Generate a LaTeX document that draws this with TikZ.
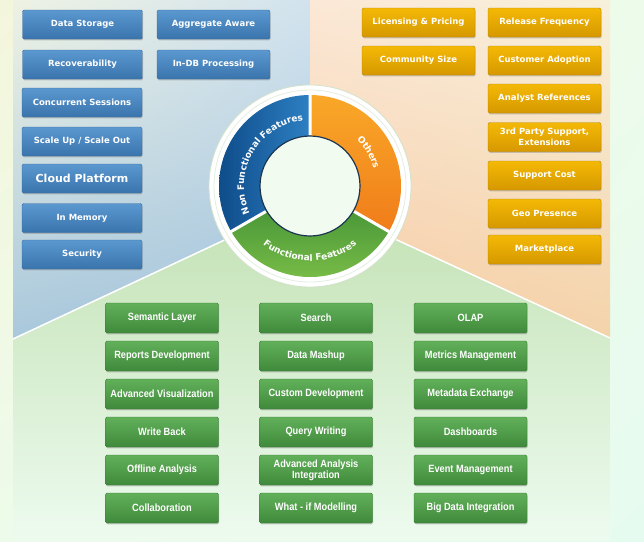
\documentclass[tikz,border=0pt]{standalone}
\usepackage{fontspec}
\usetikzlibrary{shadings,shadows,decorations.text}
\newfontfamily\tagfont{DejaVu Sans}
\newfontfamily\gridfont[FakeStretch=0.88]{Liberation Sans}
\newcommand\ringfont{\tagfont\bfseries\fontsize{9}{10}\selectfont}
\definecolor{bluetop}{HTML}{5B98D0}
\definecolor{bluebot}{HTML}{3A74AD}
\definecolor{blueedge}{HTML}{3B6C9C}
\definecolor{goldtop}{HTML}{F4B906}
\definecolor{goldbot}{HTML}{D69800}
\definecolor{goldedge}{HTML}{B98700}
\definecolor{greentop}{HTML}{62B05A}
\definecolor{greenbot}{HTML}{3F8A3B}
\definecolor{greenedge}{HTML}{3A7A36}
\definecolor{nfdark}{HTML}{0F4C8A}
\definecolor{nflight}{HTML}{2D80C3}
\definecolor{othtop}{HTML}{F9A828}
\definecolor{othbot}{HTML}{F07C1A}
\definecolor{fftop}{HTML}{4A9838}
\definecolor{ffbot}{HTML}{80C24A}
\definecolor{navy}{HTML}{1C3550}
\definecolor{innerfill}{HTML}{F1FBEF}
\definecolor{ringedge}{HTML}{D3E2CA}
\definecolor{bgyellow}{HTML}{F4F6DC}
\definecolor{bgmint}{HTML}{EDFBEA}
\definecolor{bgaqua}{HTML}{E6FBF0}
\definecolor{panelpale}{HTML}{EEF2E4}
\definecolor{panelsky}{HTML}{D2E3EE}
\definecolor{panelblue}{HTML}{A9C8DC}
\definecolor{paneldeep}{HTML}{9FC1DB}
\definecolor{peachpale}{HTML}{FBE8D6}
\definecolor{peachcream}{HTML}{F7F0DA}
\definecolor{peach}{HTML}{F7CAA4}
\definecolor{peachsand}{HTML}{F4D3AA}
\definecolor{leaf}{HTML}{C2E1B3}
\definecolor{leafpale}{HTML}{EDFBEF}
\tikzset{
  featbox/.style={rounded corners=1.5pt, minimum height=29pt, text=white, align=center, inner sep=1pt,
    drop shadow={shadow xshift=0.6pt, shadow yshift=-1.4pt, opacity=0.4}},
  nonfunc/.style={featbox, minimum width=120pt, top color=bluetop, bottom color=bluebot, draw=blueedge,
    font=\tagfont\bfseries\fontsize{8.5}{11}\selectfont},
  other/.style={featbox, minimum width=113pt, top color=goldtop, bottom color=goldbot, draw=goldedge,
    font=\tagfont\bfseries\fontsize{8.5}{11}\selectfont},
  func/.style={featbox, minimum width=113pt, minimum height=30pt, top color=greentop, bottom color=greenbot, draw=greenedge,
    font=\gridfont\bfseries\fontsize{10.5}{11}\selectfont},
  ringtext/.style={decorate, decoration={text along path, text align=center, text color=white, text={|\ringfont|#1}}}
}
\begin{document}
\begin{tikzpicture}[x=1pt, y=1pt]
        \useasboundingbox (0,0) rectangle (644,-541);
        \shade[upper left=bgyellow, upper right=bgmint, lower left=bgmint, lower right=bgaqua] (0,0) rectangle (644,-541);
        \coordinate (apex) at (310,-200);
        \coordinate (lcorner) at (13,-339);
        \coordinate (rcorner) at (610,-338);
        \shade[upper left=panelpale, upper right=panelsky, lower left=panelblue, lower right=paneldeep] (13,0) -- (310,0) -- (apex) -- (lcorner) -- cycle;
        \shade[upper left=peachpale, upper right=peachcream, lower left=peach, lower right=peachsand] (310,0) -- (610,0) -- (rcorner) -- (apex) -- cycle;
        \shade[top color=leaf, bottom color=leafpale] (lcorner) -- (apex) -- (rcorner) -- (610,-541) -- (13,-541) -- cycle;
        \draw[white, line width=1.5pt] (lcorner) -- (apex) -- (rcorner);

        \node[nonfunc] (storage) at (82.5,-24.5) {Data Storage};
        \node[nonfunc] (recover) at (82.5,-64.5) {Recoverability};
        \node[nonfunc] (sessions) at (82,-102.5) {Concurrent Sessions};
        \node[nonfunc] (scale) at (82,-141.5) {Scale Up / Scale Out};
        \node[nonfunc, font=\tagfont\bfseries\fontsize{11}{12}\selectfont] (cloud) at (82,-178.5) {Cloud Platform};
        \node[nonfunc] (memory) at (82,-218) {In Memory};
        \node[nonfunc] (security) at (82,-254.5) {Security};
        \node[nonfunc, minimum width=113pt] (aggregate) at (213.5,-24.5) {Aggregate Aware};
        \node[nonfunc, minimum width=113pt] (indb) at (213.5,-64.5) {In-DB Processing};

        \node[other] (licensing) at (418.5,-22.5) {Licensing \& Pricing};
        \node[other] (community) at (418.5,-60.5) {Community Size};
        \node[other] (release) at (544.5,-22.5) {Release Frequency};
        \node[other] (adoption) at (544.5,-60.5) {Customer Adoption};
        \node[other] (analyst) at (544.5,-98.5) {Analyst References};
        \node[other] (thirdparty) at (544.5,-137) {3rd Party Support,\\Extensions};
        \node[other] (support) at (544.5,-175.5) {Support Cost};
        \node[other] (geo) at (544.5,-213.5) {Geo Presence};
        \node[other] (market) at (544.5,-249.5) {Marketplace};

        \node[func] (semantic) at (162,-318) {Semantic Layer};
        \node[func] (reports) at (162,-356) {Reports Development};
        \node[func] (visual) at (162,-394) {Advanced Visualization};
        \node[func] (writeback) at (162,-432) {Write Back};
        \node[func] (offline) at (162,-470) {Offline Analysis};
        \node[func] (collab) at (162,-508) {Collaboration};
        \node[func] (search) at (316,-318) {Search};
        \node[func] (mashup) at (316,-356) {Data Mashup};
        \node[func] (custom) at (316,-394) {Custom Development};
        \node[func] (query) at (316,-432) {Query Writing};
        \node[func] (analysis) at (316,-470) {Advanced Analysis\\Integration};
        \node[func] (whatif) at (316,-508) {What - if Modelling};
        \node[func] (olap) at (470.5,-318) {OLAP};
        \node[func] (metrics) at (470.5,-356) {Metrics Management};
        \node[func] (metadata) at (470.5,-394) {Metadata Exchange};
        \node[func] (dashboards) at (470.5,-432) {Dashboards};
        \node[func] (event) at (470.5,-470) {Event Management};
        \node[func] (bigdata) at (470.5,-508) {Big Data Integration};

        \coordinate (ring) at (310,-186);
        \begin{scope}[shift={(ring)}]
        \fill[white] (0,0) circle (101);
        \draw[ringedge, line width=0.8pt] (0,0) circle (101);
        \draw[ringedge!60, line width=0.8pt] (0,0) circle (96);
        \shade[left color=nfdark, right color=nflight] (90:91) arc[start angle=90, end angle=210, radius=91] -- (210:50) arc[start angle=210, end angle=90, radius=50] -- cycle;
        \shade[top color=fftop, bottom color=ffbot] (210:91) arc[start angle=210, end angle=330, radius=91] -- (330:50) arc[start angle=330, end angle=210, radius=50] -- cycle;
        \shade[top color=othtop, bottom color=othbot] (330:91) arc[start angle=330, end angle=450, radius=91] -- (90:50) arc[start angle=450, end angle=330, radius=50] -- cycle;
        \filldraw[fill=innerfill, draw=navy, line width=1.2pt] (0,0) circle (50);
        \draw[white, line width=3pt] (90:51) -- (90:93) (210:51) -- (210:93) (330:51) -- (330:93);
        \path[ringtext=Non Functional Features] (216:66) arc[start angle=216, end angle=84, radius=66];
        \path[ringtext=Others] (88:66) arc[start angle=88, end angle=-28, radius=66];
        \path[ringtext=Functional Features] (204:75) arc[start angle=204, end angle=336, radius=75];
        \end{scope}
    \end{tikzpicture}
\end{document}
